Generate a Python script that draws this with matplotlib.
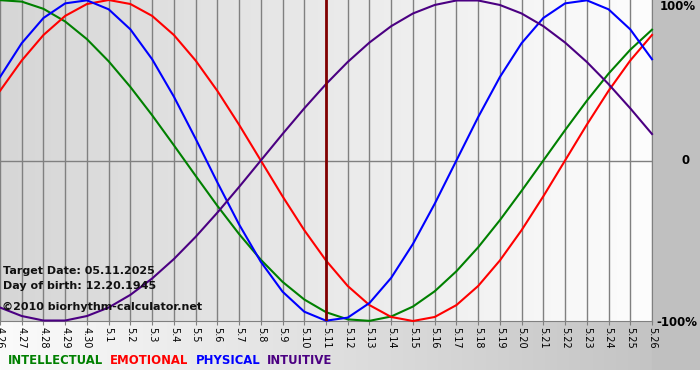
import numpy as np
from matplotlib import pyplot as plt
from matplotlib.colors import LinearSegmentedColormap

plt.rcParams['font.family'] = 'DejaVu Sans'

dates = ["4.26", "4.27", "4.28", "4.29", "4.30", "5.1", "5.2", "5.3", "5.4", "5.5",
         "5.6", "5.7", "5.8", "5.9", "5.10", "5.11", "5.12", "5.13", "5.14", "5.15",
         "5.16", "5.17", "5.18", "5.19", "5.20", "5.21", "5.22", "5.23", "5.24", "5.25", "5.26"]

physical = [0.520, 0.731, 0.888, 0.979, 0.998, 0.942, 0.817, 0.631, 0.398, 0.136,
            -0.136, -0.398, -0.631, -0.817, -0.942, -0.998, -0.979, -0.888, -0.731, -0.520,
            -0.270, 0.0, 0.270, 0.520, 0.731, 0.888, 0.979, 0.998, 0.942, 0.817, 0.631]
emotional = [0.434, 0.623, 0.782, 0.901, 0.975, 1.0, 0.975, 0.901, 0.782, 0.623,
             0.434, 0.223, 0.0, -0.223, -0.434, -0.623, -0.782, -0.901, -0.975, -1.0,
             -0.975, -0.901, -0.782, -0.623, -0.434, -0.223, 0.0, 0.223, 0.434, 0.623, 0.782]
intellectual = [0.999, 0.990, 0.945, 0.866, 0.756, 0.618, 0.458, 0.282, 0.095, -0.095,
                -0.282, -0.458, -0.618, -0.756, -0.866, -0.945, -0.990, -0.999, -0.972, -0.910,
                -0.815, -0.690, -0.541, -0.372, -0.189, 0.0, 0.189, 0.372, 0.541, 0.690, 0.815]
intuitive = [-0.916, -0.969, -0.997, -0.997, -0.969, -0.916, -0.837, -0.735, -0.614, -0.476,
             -0.325, -0.165, 0.0, 0.165, 0.325, 0.476, 0.614, 0.735, 0.837, 0.916,
             0.969, 0.997, 0.997, 0.969, 0.916, 0.837, 0.735, 0.614, 0.476, 0.325, 0.165]

target_idx = dates.index("5.11")

series = [("INTELLECTUAL", intellectual, "#008000"),
          ("EMOTIONAL", emotional, "#ff0000"),
          ("PHYSICAL", physical, "#0000ff"),
          ("INTUITIVE", intuitive, "#4b0082")]

W, H = 700, 380
fig = plt.figure(figsize=(W / 100, H / 100), dpi=100)
fig.patch.set_facecolor("white")

# background panel: grey right column, gradient band at bottom, white strip
bg = fig.add_axes([0, 0, 1, 1], zorder=0)
bg.set_xlim(0, W)
bg.set_ylim(H, 0)
bg.axis("off")
band = LinearSegmentedColormap.from_list("band", ["#fbfbfb", "#c0c0c0"])
grad = np.linspace(0, 1, 256).reshape(1, -1)
bg.imshow(grad, cmap=band, extent=[0, W, 370, 321], aspect="auto")
bg.fill_between([652, W], 0, 370, color="#c0c0c0", lw=0)
bg.fill_between([0, W], 370, H, color="white", lw=0)

# main plot
ax = fig.add_axes([0, 1 - 321 / H, 652 / W, 321 / H], zorder=1)
x = np.arange(len(dates))
ax.set_xlim(0, len(dates) - 1)
ax.set_ylim(-1, 1)

plot_bg = LinearSegmentedColormap.from_list("plotbg", ["#d6d6d6", "#fdfdfd"])
ax.imshow(grad, cmap=plot_bg, extent=[0, len(dates) - 1, -1, 1], aspect="auto", zorder=0)

for xi in x:
    ax.axvline(xi, color="#808080", lw=1, zorder=1)
ax.axhline(0, color="#808080", lw=1, zorder=1)

for name, vals, col in series:
    ax.plot(x, vals, color=col, lw=1.5, zorder=3, clip_on=False, solid_joinstyle="round")

ax.axvline(target_idx, color="#800000", lw=2, zorder=4)

ax.set_xticks(x)
ax.set_xticklabels(dates, rotation=270, fontsize=7)
ax.tick_params(axis="x", length=3, color="#808080", pad=1)
ax.set_yticks([])
for side in ["top", "left"]:
    ax.spines[side].set_visible(False)
ax.spines["bottom"].set_color("#808080")
ax.spines["right"].set_color("#808080")

fig.text(660 / W, 1 - 6 / H, "100%", fontsize=8.5, fontweight="bold", va="center")
fig.text(681 / W, 1 - 161 / H, "0", fontsize=8.5, fontweight="bold", va="center")
fig.text(656 / W, 1 - 322 / H, "-100%", fontsize=8.5, fontweight="bold", va="center")

fig.text(3 / W, 1 - 271 / H, "Target Date: 05.11.2025", fontsize=8, fontweight="bold",
         va="center", color="#111111", zorder=5)
fig.text(3 / W, 1 - 286 / H, "Day of birth: 12.20.1945", fontsize=8, fontweight="bold",
         va="center", color="#111111", zorder=5)
fig.text(2 / W, 1 - 307 / H, "\u00a92010 biorhythm-calculator.net", fontsize=8, fontweight="bold",
         va="center", color="#111111", zorder=5)

# legend as coloured words
xpos = 8
for name, vals, col in series:
    t = fig.text(xpos / W, 1 - 361 / H, name, fontsize=8.4, fontweight="bold", color=col, va="center")
    fig.canvas.draw()
    bb = t.get_window_extent()
    xpos = bb.x1 + 7

fig.savefig("out.png", dpi=100)
